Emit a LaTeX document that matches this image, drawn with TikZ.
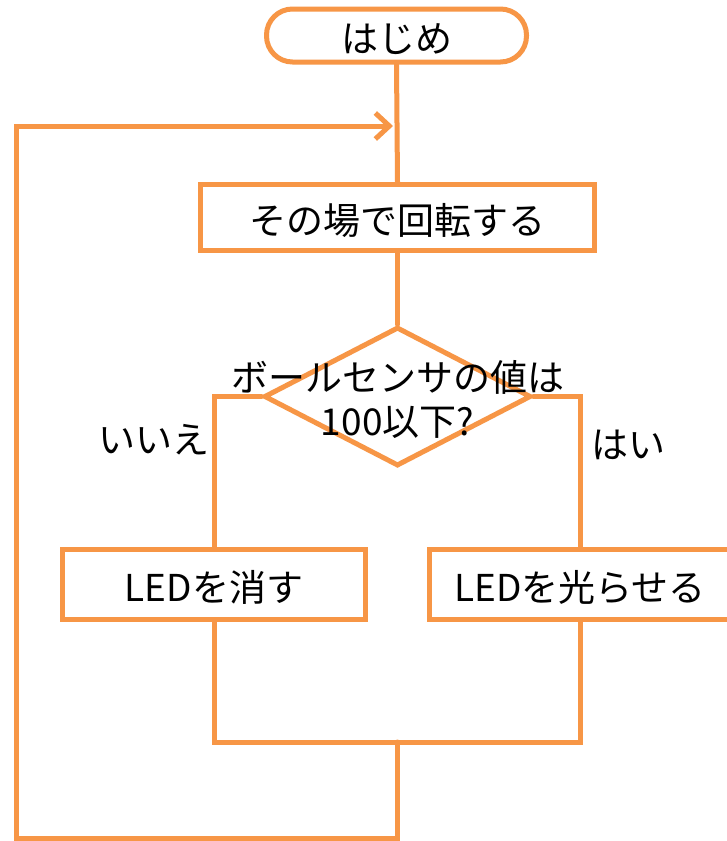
\documentclass[tikz,border=0pt]{standalone}
\usepackage{fontspec}
\setmainfont{Noto Sans CJK JP}
\usetikzlibrary{shapes.geometric,arrows.meta}
\definecolor{fcorange}{HTML}{F79646}
\tikzset{
  flow/.style={draw=fcorange, line width=5pt},
  termbox/.style={flow, rectangle, rounded corners=26pt, minimum width=260pt, minimum height=53pt, inner sep=0pt, font=\fontsize{37}{44}\selectfont, text height=38pt, text depth=4pt},
  procbox/.style={flow, rectangle, inner sep=0pt, font=\fontsize{37}{44}\selectfont, text height=38pt, text depth=4pt},
  decbox/.style={flow, diamond, inner sep=0pt, minimum width=267pt, minimum height=139pt},
  lbl/.style={inner sep=0pt, font=\fontsize{37}{44}\selectfont, align=center},
  conn/.style={draw=fcorange, line width=5pt, line cap=round, line join=miter},
}
\begin{document}
\begin{tikzpicture}[x=1pt,y=-1pt]
\useasboundingbox (0,0) rectangle (727,841);
\clip (0,0) rectangle (727,841);
\fill[white] (0,0) rectangle (727,841);
\node[termbox] (start) at (396.5,35.5) {はじめ};
\node[procbox, minimum width=394pt, minimum height=66pt] (spin) at (397.5,217.5) {その場で回転する};
\node[decbox] (dec) at (397.5,396.5) {};
\node[lbl] (dectext) at (397.5,399) {ボールセンサの値は\\100以下?};
\node[procbox, minimum width=303pt, minimum height=70pt] (off) at (214,584.5) {LEDを消す};
\node[procbox, minimum width=301pt, minimum height=70pt] (on) at (580,584.5) {LEDを光らせる};
\node[lbl] (no) at (154,440) {いいえ};
\node[lbl] (yes) at (628,445) {はい};
\coordinate (join) at (397,742);
\coordinate (bot) at (397,838.5);
\coordinate (loopin) at (393,126);
\coordinate (lcorner) at (16,838.5);
\draw[conn] (start.south) -- (spin.north);
\draw[conn] (spin.south) -- (dec.north);
\draw[conn] (dec.west) -| (off.north);
\draw[conn] (dec.east) -| (on.north);
\draw[conn] (off.south) |- (join) -| (on.south);
\draw[conn, -{Straight Barb[length=14pt,width=26pt,line width=5pt]}] (join) -- (bot) -- (lcorner) |- (loopin);
\end{tikzpicture}
\end{document}
